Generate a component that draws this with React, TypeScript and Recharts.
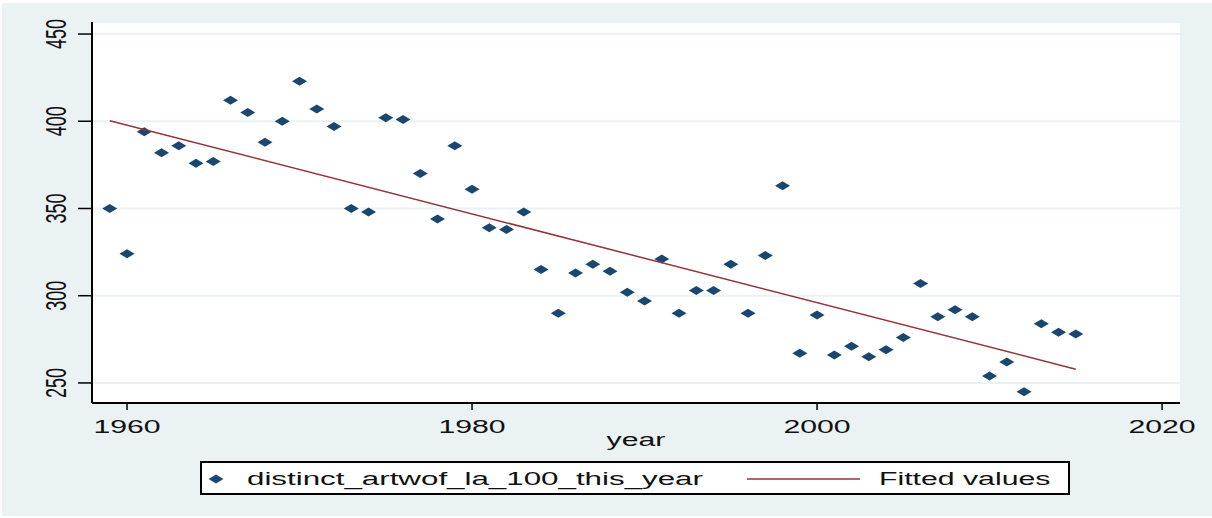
import { CartesianGrid, Legend, Scatter, ScatterChart, XAxis, YAxis } from "recharts";

const years = [
  1959, 1960, 1961, 1962, 1963, 1964, 1965, 1966, 1967, 1968, 1969, 1970, 1971, 1972, 1973, 1974, 1975, 1976, 1977,
  1978, 1979, 1980, 1981, 1982, 1983, 1984, 1985, 1986, 1987, 1988, 1989, 1990, 1991, 1992, 1993, 1994, 1995, 1996,
  1997, 1998, 1999, 2000, 2001, 2002, 2003, 2004, 2005, 2006, 2007, 2008, 2009, 2010, 2011, 2012, 2013, 2014, 2015,
];
const artworks = [
  350, 324, 394, 382, 386, 376, 377, 412, 405, 388, 400, 423, 407, 397, 350, 348, 402, 401, 370,
  344, 386, 361, 339, 338, 348, 315, 290, 313, 318, 314, 302, 297, 321, 290, 303, 303, 318, 290,
  323, 363, 267, 289, 266, 271, 265, 269, 276, 307, 288, 292, 288, 254, 262, 245, 284, 279, 278,
];
const fitYears = [1959, 2015];
const fitValues = [400.3, 257.9];
const xTicks = [1960, 1980, 2000, 2020];
const yTicks = [250, 300, 350, 400, 450];

const points = years.map((year, i) => ({ year, count: artworks[i] }));
const fitted = fitYears.map((year, i) => ({ year, count: fitValues[i] }));

const NAVY = "#1a476f";
const MAROON = "#90353b";
const BG = "#eaf2f3";
const INK = "#111";
const FONT = "'Liberation Sans', Arial, sans-serif";
const STRETCH = 1.68;

function Diamond({ cx, cy }: { cx?: number; cy?: number }) {
  if (cx == null || cy == null) return <g />;
  return <path d={`M${cx - 7.5},${cy} L${cx},${cy - 4.5} L${cx + 7.5},${cy} L${cx},${cy + 4.5} Z`} fill={NAVY} />;
}

function XTick({ x, y, payload }: any) {
  return (
    <g transform={`translate(${x},${y + 23}) scale(${STRETCH},1)`}>
      <text textAnchor="middle" fontSize={18} fontFamily={FONT} fill={INK}>
        {payload.value}
      </text>
    </g>
  );
}

function YTick({ x, y, payload }: any) {
  return (
    <g transform={`translate(${x},${y}) scale(${STRETCH},1) rotate(-90)`}>
      <text textAnchor="middle" fontSize={18} fontFamily={FONT} fill={INK}>
        {payload.value}
      </text>
    </g>
  );
}

function LegendBox() {
  return (
    <svg width={870} height={34} style={{ display: "block" }}>
      <rect x={1} y={1} width={868} height={32} fill="#fff" stroke="#000" strokeWidth={2} />
      <Diamond cx={16} cy={18} />
      <g transform={`translate(47,24) scale(1.74,1)`}>
        <text fontSize={18} fontFamily={FONT} fill={INK}>
          distinct_artwof_la_100_this_year
        </text>
      </g>
      <line x1={547} x2={660} y1={18} y2={18} stroke={MAROON} strokeWidth={1.5} />
      <g transform={`translate(679,24) scale(${STRETCH},1)`}>
        <text fontSize={18} fontFamily={FONT} fill={INK}>
          Fitted values
        </text>
      </g>
    </svg>
  );
}

export default function App() {
  return (
    <div style={{ position: "absolute", left: 0, top: 0, width: 1212, height: 518, background: "#fff" }}>
      <div style={{ position: "absolute", left: 2, top: 3, width: 1210, height: 513, background: BG }} />
      <div style={{ position: "absolute", left: 0, top: 0 }}>
        <ScatterChart width={1212} height={518} margin={{ top: 22, right: 32, bottom: 23, left: 0 }}>
          <CartesianGrid vertical={false} fill="#fff" stroke={BG} strokeWidth={2} />
          <XAxis
            type="number"
            dataKey="year"
            domain={[1957.97, 2021.04]}
            ticks={xTicks}
            allowDataOverflow
            height={58}
            tickSize={7}
            tickMargin={0}
            tick={<XTick />}
            axisLine={{ stroke: "#000", strokeWidth: 2 }}
            tickLine={{ stroke: "#000", strokeWidth: 1.5 }}
            label={{
              content: ({ viewBox }: any) => (
                <g transform={`translate(${viewBox.x + viewBox.width / 2},${viewBox.y + 43}) scale(${STRETCH},1)`}>
                  <text textAnchor="middle" fontSize={18} fontFamily={FONT} fill={INK}>
                    year
                  </text>
                </g>
              ),
            }}
          />
          <YAxis
            type="number"
            dataKey="count"
            domain={[238.5, 456.9]}
            ticks={yTicks}
            allowDataOverflow
            width={92}
            tickSize={14}
            tickMargin={12}
            tick={<YTick />}
            axisLine={{ stroke: "#000", strokeWidth: 2 }}
            tickLine={{ stroke: "#000", strokeWidth: 1.5 }}
          />
          <Legend verticalAlign="bottom" wrapperStyle={{ left: 200, bottom: 23, width: 870 }} content={() => <LegendBox />} />
          <Scatter
            name="distinct_artwof_la_100_this_year"
            data={points}
            shape={<Diamond />}
            isAnimationActive={false}
          />
          <Scatter
            name="Fitted values"
            data={fitted}
            line={{ stroke: MAROON, strokeWidth: 1.5 }}
            shape={() => <g />}
            isAnimationActive={false}
          />
        </ScatterChart>
      </div>
    </div>
  );
}
